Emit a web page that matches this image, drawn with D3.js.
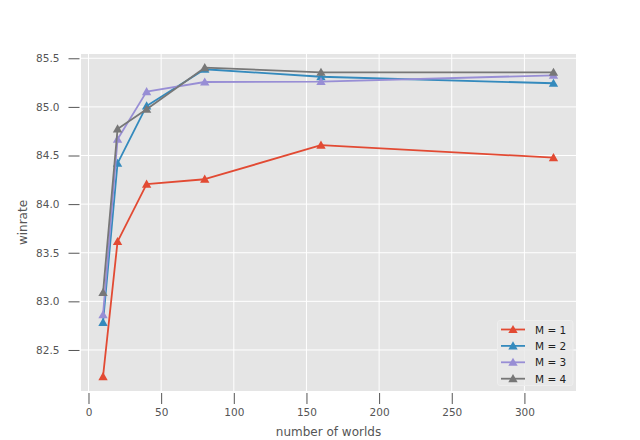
<!DOCTYPE html>
<html>
<head>
<meta charset="utf-8">
<script src="https://cdn.jsdelivr.net/npm/d3@7"></script>
<style>
  html, body { margin: 0; padding: 0; background: #fff; }
  svg { display: block; font-family: "DejaVu Sans", sans-serif; }
</style>
</head>
<body>
<svg id="chart" width="640" height="440"></svg>
<script>
const worlds = [10, 20, 40, 80, 160, 320];
const seriesNames = ["M = 1", "M = 2", "M = 3", "M = 4"];
const m1 = [82.225, 83.615, 84.205, 84.256, 84.606, 84.478];
const m2 = [82.783, 84.42, 85.01, 85.387, 85.31, 85.243];
const m3 = [82.862, 84.667, 85.157, 85.256, 85.26, 85.325];
const m4 = [83.09, 84.773, 84.975, 85.403, 85.356, 85.356];
const xTicks = [0, 50, 100, 150, 200, 250, 300];
const yTicks = [82.5, 83.0, 83.5, 84.0, 84.5, 85.0, 85.5];
const colors = ["#E24A33", "#348ABD", "#988ED5", "#777777"];

const series = [m1, m2, m3, m4].map((vals, i) => ({
  name: seriesNames[i], color: colors[i],
  points: worlds.map((w, j) => ({ x: w, y: vals[j] }))
}));

const svg = d3.select("#chart");
const L = 81, R = 576, T = 54, B = 391;

const x = d3.scaleLinear().domain([-5.5, 335.5]).range([L - 0.5, R]);
const y = d3.scaleLinear().domain([82.078, 85.544]).range([B, T]);

// background
svg.append("rect").attr("x", L).attr("y", T).attr("width", R - L).attr("height", B - T).attr("fill", "#E5E5E5");

// grid
const g = svg.append("g");
g.selectAll(".vg").data(xTicks).join("line")
  .attr("x1", d => x(d)).attr("x2", d => x(d)).attr("y1", T).attr("y2", B)
  .attr("stroke", "#fff").attr("stroke-width", 1);
g.selectAll(".hg").data(yTicks).join("line")
  .attr("x1", L).attr("x2", R).attr("y1", d => y(d)).attr("y2", d => y(d))
  .attr("stroke", "#fff").attr("stroke-width", 1);

// axes
const xAxis = d3.axisBottom(x).tickValues(xTicks).tickFormat(d3.format("d")).tickSize(11).tickPadding(5);
const yAxis = d3.axisLeft(y).tickValues(yTicks).tickFormat(d3.format(".1f")).tickSize(11).tickPadding(9);

const gx = svg.append("g").attr("transform", `translate(0,${B + 2})`).call(xAxis);
const gy = svg.append("g").attr("transform", `translate(${L - 1.5},0)`).call(yAxis);
[gx, gy].forEach(a => {
  a.select(".domain").remove();
  a.selectAll(".tick line").attr("stroke", "#555").attr("stroke-width", 1);
  a.selectAll(".tick text").attr("fill", "#555").attr("font-size", "10.5px").attr("font-family", "DejaVu Sans, sans-serif");
});

svg.append("text").attr("x", (L + R) / 2).attr("y", 436).attr("text-anchor", "middle")
  .attr("fill", "#555").attr("font-size", "12px").text("number of worlds");
svg.append("text").attr("transform", `translate(27,${(T + B) / 2}) rotate(-90)`).attr("text-anchor", "middle")
  .attr("fill", "#555").attr("font-size", "12px").text("winrate");

// lines
const line = d3.line().x(d => x(d.x)).y(d => y(d.y));
const tri = d3.symbol().type(d3.symbolTriangle).size(38);
const plot = svg.append("g");
series.forEach(s => {
  plot.append("path").datum(s.points).attr("d", line)
    .attr("fill", "none").attr("stroke", s.color).attr("stroke-width", 1.8).attr("stroke-linejoin", "round");
  plot.selectAll(null).data(s.points).join("path")
    .attr("d", tri).attr("transform", d => `translate(${x(d.x)},${y(d.y) + 0.8})`)
    .attr("fill", s.color);
});

// legend
const lg = svg.append("g");
lg.append("rect").attr("x", 497.5).attr("y", 320.5).attr("width", 75.5).attr("height", 65).attr("rx", 2.5)
  .attr("fill", "#E8E8E8").attr("fill-opacity", 0.8).attr("stroke", "#eeeeee").attr("stroke-width", 1);
series.forEach((s, i) => {
  const yy = 329.5 + i * 16.4;
  lg.append("line").attr("x1", 501).attr("x2", 525).attr("y1", yy).attr("y2", yy)
    .attr("stroke", s.color).attr("stroke-width", 1.8);
  lg.append("path").attr("d", tri).attr("transform", `translate(513,${yy + 0.8})`).attr("fill", s.color);
  lg.append("text").attr("x", 535).attr("y", yy + 4).attr("fill", "#222").attr("font-size", "10.5px").text(s.name);
});
</script>
</body>
</html>
